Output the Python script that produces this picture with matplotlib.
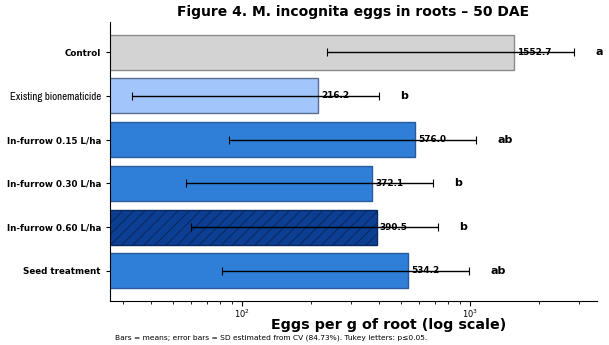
import matplotlib
matplotlib.use("Agg")
import matplotlib.pyplot as plt
from matplotlib import font_manager
import numpy as np

# treatments, means (eggs per g root) and Tukey letters
treatments = ["Control", "Existing bionematicide", "In-furrow 0.15 L/ha",
              "In-furrow 0.30 L/ha", "In-furrow 0.60 L/ha", "Seed treatment"]
means = [1552.7, 216.2, 576.0, 372.1, 390.5, 534.2]
letters = ["a", "b", "ab", "b", "b", "ab"]
cv = 0.8473

colors = ["#d3d3d3", "#a2c6fc", "#2f7fd9", "#2f7fd9", "#0c3f93", "#2f7fd9"]
edges = ["#8a8a8a", "#5a6f8f", "#2a5a9a", "#2a5a9a", "#0a2a60", "#2a5a9a"]
hatches = [None, None, None, None, "///", None]

means = np.array(means)
sd = means * cv
lower = np.minimum(sd, means - 1e-6)

fig = plt.figure(figsize=(6.09, 3.45), dpi=100)
ax = fig.add_axes([110/609, 1 - 301/345, (597 - 110)/609, (301 - 22)/345])

plt.rcParams['hatch.linewidth'] = 0.8
y = np.arange(len(treatments))
for i in range(len(treatments)):
    ax.barh(y[i], means[i], height=0.8, color=colors[i], edgecolor=edges[i],
            linewidth=1, hatch=hatches[i], zorder=2)
ax.errorbar(means, y, xerr=[lower, sd], fmt="none", ecolor="black",
            elinewidth=1, capsize=3, capthick=0.8, zorder=3)

for i in range(len(treatments)):
    ax.text(means[i] * 1.03, y[i], f"{means[i]:.1f}", va="center", ha="left",
            fontsize=6.4, fontweight="bold", zorder=4)
    ax.text((means[i] + sd[i]) * 1.24, y[i], letters[i], va="center",
            ha="left", fontsize=8, fontweight="bold")

ax.set_xscale("log")
ax.set_xlim(26.4, 3600)
ax.set_yticks(y)
ax.set_yticklabels(treatments, fontsize=6.3, fontweight="bold")
ax.invert_yaxis()

# the second label is drawn in a narrow face in the original
fonts = font_manager.fontManager.ttflist
narrow = [f.name for f in fonts if "Narrow" in f.name or "Condensed" in f.name]
cond = [f for f in fonts if isinstance(f.stretch, int) and f.stretch < 500]
lab = ax.get_yticklabels()[1]
lab.set_fontweight("normal")
if narrow:
    lab.set_family(narrow[0])
    lab.set_fontsize(7.8)
elif cond:
    lab.set_family(cond[0].name)
    lab.set_fontstretch(cond[0].stretch)
    lab.set_fontsize(7.2)
else:
    lab.set_family("Liberation Sans")
    lab.set_fontsize(6.3)

ax.tick_params(axis="x", which="major", labelsize=6, pad=1, length=3.5)
ax.tick_params(axis="x", which="minor", length=2)
ax.tick_params(axis="y", length=3)
ax.spines["top"].set_visible(False)
ax.spines["right"].set_visible(False)

fig.text(389/609, 1 - 325.5/345, "Eggs per g of root (log scale)",
         ha="center", va="center", fontsize=10.3, fontweight="bold")
fig.text(0.5 * (180 + 527) / 609, 1 - 12/345,
         "Figure 4. M. incognita eggs in roots \u2013 50 DAE",
         ha="center", va="center", fontsize=10, fontweight="bold")
fig.text(115/609, 1 - 338/345,
         "Bars = means; error bars = SD estimated from CV (84.73%). Tukey letters: p\u22640.05.",
         ha="left", va="center", fontsize=5.4)

fig.savefig("out.png", dpi=100)
